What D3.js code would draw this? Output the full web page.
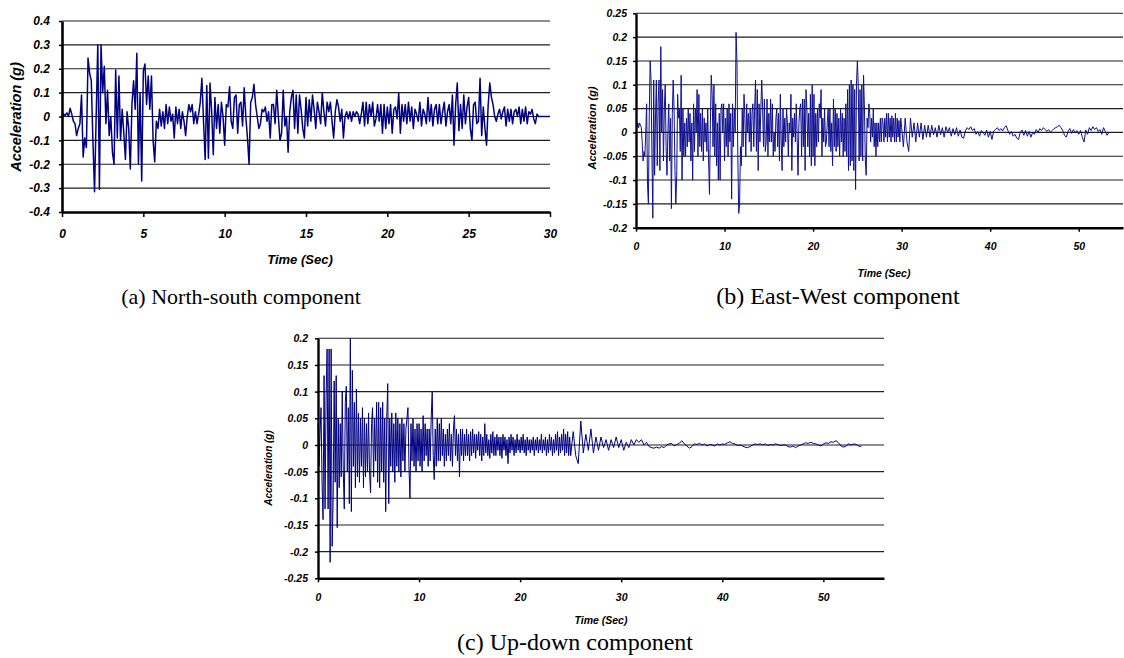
<!DOCTYPE html>
<html><head><meta charset="utf-8">
<script src="https://cdn.jsdelivr.net/npm/d3@7"></script>
<style>body{margin:0;background:#fff;} svg{display:block;}</style>
</head><body>
<svg id="chart" width="1124" height="658"></svg>
<script>
// ---------------- DATA ----------------
// (a) North-south component, sample step 0.1 s from t = 0
const nsDt = 0.1;
const nsAccel = [
 0.0, 0.01, 0.005, 0.015, 0.0, 0.035, 0.01, -0.02, -0.03, -0.08,
 -0.05, -0.03, 0.09, -0.17, -0.09, -0.13, 0.245, 0.18, 0.15, -0.1,
 -0.315, 0.0, 0.3, -0.305, 0.3, 0.1, 0.21, -0.03, 0.11, -0.08,
 0.0, -0.15, -0.2, 0.195, -0.09, 0.17, -0.1, 0.03, -0.07, -0.18,
 0.02, -0.05, -0.22, 0.05, 0.15, 0.03, 0.265, -0.2, 0.1, -0.27,
 0.19, 0.22, 0.05, 0.17, 0.03, 0.17, -0.1, -0.19, -0.02, -0.05,
 0.03, -0.04, 0.02, -0.05, 0.05, -0.03, 0.04, -0.02, 0.01, -0.09,
 0.04, -0.03, 0.03, -0.05, 0.02, -0.02, -0.08, 0.0, 0.05, 0.02,
 0.05, -0.03, 0.02, -0.03, 0.01, 0.06, 0.16, -0.02, -0.18, 0.13,
 -0.175, 0.14, 0.02, -0.16, 0.08, -0.05, 0.05, -0.07, 0.06, 0.0,
 -0.12, 0.05, 0.04, 0.125, -0.02, -0.05, 0.08, 0.09, -0.07, 0.05,
 0.06, -0.04, 0.12, 0.0, -0.09, -0.2, 0.06, 0.08, 0.135, 0.05,
 0.0, -0.05, -0.03, 0.03, 0.02, 0.04, -0.02, 0.02, -0.09, 0.05,
 0.05, -0.03, 0.11, 0.0, -0.1, -0.07, 0.11, -0.04, 0.0, -0.15,
 0.02, 0.08, 0.11, -0.05, 0.09, -0.07, 0.09, 0.03, -0.05, -0.09,
 0.08, -0.04, 0.07, -0.02, 0.09, 0.03, -0.05, 0.06, 0.02, -0.03,
 0.1, 0.02, -0.04, 0.06, 0.02, 0.06, -0.02, -0.09, 0.02, 0.07,
 0.04, -0.02, 0.03, -0.09, 0.0, 0.02, -0.01, 0.02, -0.02, 0.02,
 0.0, 0.02, 0.01, -0.03, 0.01, 0.06, -0.04, 0.06, -0.03, 0.05,
 0.0, 0.06, -0.04, -0.01, 0.05, -0.02, 0.05, -0.07, 0.05, -0.05,
 0.04, -0.03, 0.05, -0.07, 0.03, 0.04, -0.01, 0.1, -0.07, 0.05,
 -0.02, 0.05, -0.03, 0.06, -0.02, 0.04, -0.05, 0.03, 0.01, -0.02,
 0.06, -0.04, 0.03, 0.01, -0.03, 0.08, -0.02, 0.05, -0.04, 0.03,
 0.05, -0.03, 0.05, -0.03, 0.02, 0.06, -0.04, 0.02, 0.05, -0.03,
 0.09, -0.12, 0.05, 0.14, -0.06, 0.05, -0.05, 0.09, -0.03, 0.04,
 0.08, -0.05, -0.1, 0.05, 0.06, -0.03, -0.02, 0.16, -0.08, 0.04,
 -0.05, -0.12, 0.05, 0.14, 0.08, 0.05, 0.0, -0.02, 0.01, 0.03,
 -0.01, 0.02, 0.04, -0.04, 0.03, -0.02, 0.03, -0.03, 0.02, 0.03,
 0.0, 0.04, -0.03, 0.03, -0.02, 0.04, -0.03, 0.02, 0.01, 0.03,
 -0.01, -0.03, 0.01, 0.0, 0.0, 0.0, 0.0, 0.0, 0.0, 0.0,
 0.0
];

// (b) East-West component: strong part step 0.1 s from t = 0, tail step 0.2 s from t = 30
const ewDt = 0.1;
const ewAccel = [
 0.0, 0.01, 0.02, 0.01, 0.02, 0.015, 0.01, -0.02, -0.06, -0.04,
 -0.05, 0.0, 0.06, -0.11, -0.15, 0.04, 0.15, 0.11, -0.05, -0.18,
 0.11, -0.09, 0.03, 0.11, -0.07, 0.06, 0.11, -0.08, 0.18, 0.0,
 0.09, -0.06, 0.05, 0.1, -0.03, -0.09, 0.0, 0.06, -0.06, 0.03,
 -0.16, 0.04, 0.11, 0.05, -0.08, -0.15, -0.09, 0.08, 0.03, 0.05,
 -0.04, 0.12, -0.1, 0.05, -0.05, 0.02, -0.05, 0.03, -0.03, 0.05,
 -0.02, 0.04, -0.06, 0.02, -0.1, 0.06, -0.04, 0.05, 0.0, 0.09,
 -0.05, 0.08, -0.03, 0.04, -0.04, 0.05, -0.06, 0.03, -0.02, 0.02,
 -0.04, 0.05, -0.06, -0.13, 0.02, 0.12, 0.08, -0.03, 0.1, -0.05,
 0.06, -0.07, 0.02, -0.1, 0.04, -0.1, 0.05, 0.06, 0.0, 0.06,
 -0.06, 0.03, -0.03, 0.05, -0.05, 0.06, -0.02, 0.04, -0.14, 0.06,
 -0.03, 0.05, 0.0, 0.21, 0.15, -0.05, -0.17, -0.15, -0.03, -0.07,
 0.05, -0.03, 0.08, 0.03, -0.05, 0.06, 0.0, 0.04, -0.02, 0.05,
 -0.04, 0.04, 0.06, -0.03, 0.05, 0.11, -0.04, 0.09, -0.08, 0.06,
 -0.02, 0.05, 0.11, 0.05, -0.03, 0.07, -0.04, -0.02, 0.07, -0.05,
 0.04, -0.02, 0.07, -0.02, 0.06, -0.05, 0.0, -0.04, 0.03, 0.05,
 -0.03, 0.04, -0.06, 0.08, -0.02, -0.08, 0.05, -0.03, 0.03, -0.02,
 0.05, 0.02, -0.05, 0.02, 0.0, 0.08, -0.08, 0.03, -0.01, 0.04,
 -0.02, 0.06, -0.01, -0.09, 0.02, 0.05, 0.06, -0.05, 0.07, -0.03,
 0.07, -0.08, 0.09, 0.05, -0.03, 0.04, -0.05, 0.08, -0.07, 0.1,
 -0.05, 0.08, -0.07, 0.04, -0.03, 0.05, -0.02, 0.06, 0.03, 0.09,
 -0.05, 0.03, -0.02, 0.05, -0.03, -0.02, 0.02, 0.05, -0.03, 0.05,
 -0.04, 0.02, -0.07, 0.07, -0.03, 0.05, -0.04, 0.04, -0.03, 0.03,
 -0.05, 0.05, -0.02, 0.04, -0.05, 0.03, -0.04, 0.06, -0.05, 0.09,
 -0.08, 0.1, -0.07, 0.11, -0.06, 0.1, -0.08, 0.09, -0.12, 0.1,
 0.15, 0.1, -0.06, 0.09, -0.05, 0.1, -0.06, 0.12, 0.05, -0.06,
 -0.09, 0.03, 0.01, 0.06, 0.04, -0.02, 0.03, -0.01, 0.05, -0.03,
 0.02, -0.05, 0.02, -0.03, 0.02, -0.02, 0.03, -0.02, 0.03, 0.02,
 -0.02, 0.03, -0.01, 0.04, -0.02, 0.04, -0.01, 0.03, -0.02, 0.035,
 -0.01, 0.03, -0.02, 0.04, -0.02, 0.03, -0.01, 0.025, -0.02, 0.03
];
const ewTailStart = 30;
const ewTailDt = 0.2;
const ewTail = [
 0.01, -0.03, 0.03, -0.02, -0.04, 0.03, -0.01, 0.02, -0.02, 0.02,
 -0.01, 0.02, -0.015, 0.015, -0.01, 0.015, -0.01, 0.015, -0.005, 0.01,
 -0.01, 0.015, -0.005, 0.01, -0.01, 0.012, 0.0, 0.01, -0.008, 0.008,
 -0.005, 0.01, -0.008, 0.005, -0.01, -0.012, 0.003, 0.01, 0.006, 0.012,
 0.004, 0.008, -0.004, 0.002, -0.008, 0.004, 0.0, -0.006, 0.005, -0.01,
 0.002, -0.015, 0.003, 0.006, 0.01, 0.004, 0.008, 0.003, 0.01, 0.014,
 0.004, -0.004, 0.002, -0.008, -0.004, -0.012, -0.015, 0.0, 0.005, -0.006,
 0.004, -0.008, 0.002, -0.01, 0.0, -0.004, 0.006, 0.0, 0.008, 0.004,
 0.01, 0.006, 0.002, 0.006, 0.0, 0.004, 0.008, 0.01, 0.012, 0.015,
 0.01, 0.004, -0.006, -0.01, 0.002, 0.008, -0.002, 0.006, 0.0, 0.004,
 -0.004, 0.004, -0.01, -0.02, 0.005, -0.004, 0.01, 0.004, 0.012, 0.006,
 0.01, 0.002, 0.006, -0.004, 0.01, 0.002, -0.006, 0.0
];

// (c) Up-down component: strong part step 0.1 s from t = 0, tail step 0.25 s from t = 25
const udDt = 0.1;
const udAccel = [
 0.04, -0.04, 0.02, 0.07, -0.07, -0.14, 0.13, -0.12, 0.09, 0.18,
 -0.12, 0.18, -0.22, 0.18, -0.19, -0.1, 0.12, -0.07, 0.13, -0.155,
 0.05, -0.08, 0.04, -0.06, 0.1, -0.05, -0.12, 0.08, 0.11, -0.05,
 0.07, -0.11, 0.2, -0.125, 0.14, -0.04, 0.08, -0.08, 0.105, -0.06,
 0.06, -0.07, 0.05, -0.04, 0.07, -0.08, 0.05, -0.06, 0.04, -0.05,
 0.06, -0.05, -0.09, 0.04, 0.07, -0.06, 0.05, -0.03, 0.08, -0.07,
 0.08, -0.08, 0.07, -0.05, 0.08, -0.07, 0.05, -0.125, 0.05, 0.115,
 -0.11, 0.05, -0.04, 0.06, -0.05, 0.04, -0.07, 0.06, -0.04, 0.05,
 -0.05, 0.04, -0.06, 0.05, -0.03, 0.04, -0.05, 0.03, 0.05, 0.07,
 -0.04, -0.1, 0.04, -0.03, 0.05, -0.04, 0.03, -0.05, 0.04, -0.03,
 0.04, -0.04, 0.03, -0.05, 0.055, -0.03, 0.04, -0.02, 0.03, -0.04,
 0.03, -0.03, 0.05, 0.1, -0.02, -0.065, 0.03, -0.04, 0.05, -0.03,
 0.04, -0.03, 0.05, -0.02, 0.03, -0.04, 0.02, -0.03, 0.03, -0.02,
 0.04, -0.03, 0.02, -0.04, 0.03, 0.055, -0.02, 0.03, -0.03, 0.02,
 -0.06, 0.03, -0.02, 0.03, -0.03, 0.02, -0.02, 0.03, -0.02, 0.02,
 -0.03, 0.025, -0.02, 0.03, -0.015, 0.02, -0.025, 0.02, -0.01, 0.025,
 -0.02, 0.02, -0.03, 0.015, -0.02, 0.04, -0.015, 0.02, -0.02, 0.01,
 -0.025, 0.02, -0.015, 0.025, -0.02, 0.015, -0.02, 0.02, -0.01, 0.015,
 -0.02, 0.015, -0.025, 0.02, -0.01, 0.015, -0.02, 0.01, -0.035, 0.015,
 -0.015, 0.02, -0.01, 0.015, -0.02, 0.01, -0.015, 0.02, -0.01, 0.01,
 -0.015, 0.015, -0.01, 0.02, -0.015, 0.01, -0.02, 0.015, -0.01, 0.01,
 -0.015, 0.01, -0.01, 0.015, -0.02, 0.01, -0.01, 0.015, -0.015, 0.01,
 -0.01, 0.02, -0.015, 0.01, -0.01, 0.015, -0.02, 0.01, -0.015, 0.02,
 -0.01, 0.015, -0.02, 0.01, -0.015, 0.02, -0.01, 0.025, -0.02, 0.015,
 -0.015, 0.02, -0.01, 0.03, -0.02, 0.02, -0.015, 0.025, -0.02, 0.015
];
const udTailStart = 25;
const udTailDt = 0.25;
const udTail = [
 -0.02, 0.025, -0.02, -0.035, 0.045, -0.015, 0.02, -0.01, 0.03, -0.015,
 0.015, -0.01, 0.015, -0.005, 0.01, -0.01, 0.01, -0.005, 0.015, -0.005,
 0.01, -0.01, 0.005, -0.005, 0.01, 0.0, 0.01, 0.005, 0.01, 0.0,
 0.005, -0.003, -0.005, -0.006, -0.004, -0.006, -0.003, -0.005, 0.0, 0.002,
 0.003, -0.002, 0.001, 0.003, 0.008, 0.002, -0.002, -0.006, -0.003, 0.002,
 0.001, 0.003, 0.0, 0.002, -0.002, 0.001, 0.0, -0.002, 0.002, 0.0,
 0.002, 0.001, 0.004, 0.006, 0.003, 0.002, -0.001, 0.0, -0.002, -0.004,
 -0.005, -0.003, 0.0, 0.002, 0.001, 0.002, 0.0, 0.002, -0.001, 0.001,
 0.0, 0.002, 0.001, -0.001, 0.0, 0.0, -0.003, -0.004, -0.002, -0.005,
 -0.002, 0.0, 0.002, 0.004, 0.003, 0.005, 0.003, 0.002, 0.0, -0.002,
 0.002, 0.004, 0.003, 0.006, 0.005, 0.008, 0.004, -0.002, -0.004, -0.002,
 0.002, 0.0, 0.002, 0.001, -0.002, -0.003
];

// axis ticks and texts
const nsYTicks = [-0.4, -0.3, -0.2, -0.1, 0, 0.1, 0.2, 0.3, 0.4];
const nsXTicks = [0, 5, 10, 15, 20, 25, 30];
const ewYTicks = [-0.2, -0.15, -0.1, -0.05, 0, 0.05, 0.1, 0.15, 0.2, 0.25];
const ewXTicks = [0, 10, 20, 30, 40, 50];
const udYTicks = [-0.25, -0.2, -0.15, -0.1, -0.05, 0, 0.05, 0.1, 0.15, 0.2];
const udXTicks = [0, 10, 20, 30, 40, 50];
const yTitle = "Acceleration (g)";
const xTitle = "Time (Sec)";
const captions = ["(a) North-south component", "(b) East-West component", "(c) Up-down component"];

// ---------------- BUILD SERIES ----------------
const nsSeries = nsAccel.map((v, i) => ({t: i * nsDt, v}));
const ewSeries = ewAccel.map((v, i) => ({t: i * ewDt, v}))
  .concat(ewTail.map((v, i) => ({t: ewTailStart + i * ewTailDt, v})));
const udSeries = udAccel.map((v, i) => ({t: i * udDt, v}))
  .concat(udTail.map((v, i) => ({t: udTailStart + i * udTailDt, v})));

const svg = d3.select("#chart");
const fmt = v => String(Math.round(v * 100) / 100);
const FONT = "'Liberation Sans', Arial, sans-serif";
const SERIF = "'Liberation Serif', 'Times New Roman', serif";

function panel(c) {
  const g = svg.append("g");
  const x = d3.scaleLinear().domain(c.xDomain).range([c.left, c.right]);
  const y = d3.scaleLinear().domain(c.yDomain).range([c.bottom, c.top]);

  // horizontal gridlines
  g.append("g").selectAll("line")
    .data(c.yTicks.filter(v => v !== c.yDomain[0]))
    .join("line")
    .attr("x1", c.left).attr("x2", c.right)
    .attr("y1", d => y(d)).attr("y2", d => y(d))
    .attr("stroke", "#1e1e1e").attr("stroke-width", 1.1);

  // series line
  g.append("path").datum(c.data)
    .attr("d", d3.line().x(d => x(d.t)).y(d => y(d.v)))
    .attr("fill", "none").attr("stroke", c.color).attr("stroke-width", c.lw)
    .attr("stroke-linejoin", "round");

  // y axis
  const ya = g.append("g").attr("transform", `translate(${c.left},0)`)
    .call(d3.axisLeft(y).tickValues(c.yTicks).tickFormat(fmt)
      .tickSize(3).tickSizeOuter(0).tickPadding(c.yPad));
  ya.select(".domain").attr("stroke", "#000").attr("stroke-width", c.axisW);
  ya.selectAll(".tick line").attr("stroke", "#000").attr("stroke-width", 1.5);
  ya.selectAll(".tick text").attr("font-family", FONT).attr("font-weight", "bold")
    .attr("font-style", "italic").attr("font-size", c.tickFs).attr("fill", "#000");

  // x axis
  const xa = g.append("g").attr("transform", `translate(0,${c.bottom})`)
    .call(d3.axisBottom(x).tickValues(c.xTicks).tickFormat(d3.format("d"))
      .tickSize(c.xTickLen).tickSizeOuter(0).tickPadding(c.xPad));
  xa.select(".domain").attr("stroke", "#000").attr("stroke-width", c.axisW);
  xa.selectAll(".tick line").attr("stroke", "#000").attr("stroke-width", 1.5);
  xa.selectAll(".tick text").attr("font-family", FONT).attr("font-weight", "bold")
    .attr("font-style", "italic").attr("font-size", c.tickFs).attr("fill", "#000");

  // axis titles
  g.append("text").attr("transform", `translate(${c.yTitleX},${c.yTitleY}) rotate(-90)`)
    .attr("text-anchor", "middle").attr("dominant-baseline", "central")
    .attr("font-family", FONT).attr("font-weight", "bold").attr("font-style", "italic")
    .attr("font-size", c.yTitleFs).text(yTitle);
  g.append("text").attr("x", c.xTitleX).attr("y", c.xTitleY)
    .attr("text-anchor", "middle").attr("dominant-baseline", "central")
    .attr("font-family", FONT).attr("font-weight", "bold").attr("font-style", "italic")
    .attr("font-size", c.xTitleFs).text(xTitle);

  // caption
  g.append("text").attr("x", c.capX).attr("y", c.capY)
    .attr("text-anchor", "middle").attr("font-family", SERIF)
    .attr("font-size", c.capFs).attr("fill", "#000").text(c.caption);
}

panel({
  data: nsSeries, xDomain: [0, 30], yDomain: [-0.4, 0.4],
  xTicks: nsXTicks, yTicks: nsYTicks,
  left: 62, right: 550, top: 21, bottom: 212,
  color: "#000080", lw: 1.5, axisW: 2.6,
  yPad: 9, xPad: 12, xTickLen: 5, tickFs: 12,
  yTitleX: 16, yTitleY: 117, yTitleFs: 14.5,
  xTitleX: 300, xTitleY: 259, xTitleFs: 13,
  caption: captions[0], capX: 241, capY: 304, capFs: 22
});

panel({
  data: ewSeries, xDomain: [0, 55], yDomain: [-0.2, 0.25],
  xTicks: ewXTicks, yTicks: ewYTicks,
  left: 636, right: 1123, top: 13.3, bottom: 227.7,
  color: "#101090", lw: 1, axisW: 2.4,
  yPad: 6, xPad: 11, xTickLen: 4, tickFs: 10.5,
  yTitleX: 592, yTitleY: 128, yTitleFs: 11,
  xTitleX: 884, xTitleY: 273, xTitleFs: 10.5,
  caption: captions[1], capX: 838, capY: 304, capFs: 24
});

panel({
  data: udSeries, xDomain: [0, 56], yDomain: [-0.25, 0.2],
  xTicks: udXTicks, yTicks: udYTicks,
  left: 318, right: 884, top: 338.3, bottom: 578.3,
  color: "#000080", lw: 1, axisW: 2.4,
  yPad: 7, xPad: 11, xTickLen: 4, tickFs: 10.5,
  yTitleX: 268, yTitleY: 468, yTitleFs: 10,
  xTitleX: 601, xTitleY: 620, xTitleFs: 10.5,
  caption: captions[2], capX: 575, capY: 650, capFs: 24
});
</script>
</body></html>
